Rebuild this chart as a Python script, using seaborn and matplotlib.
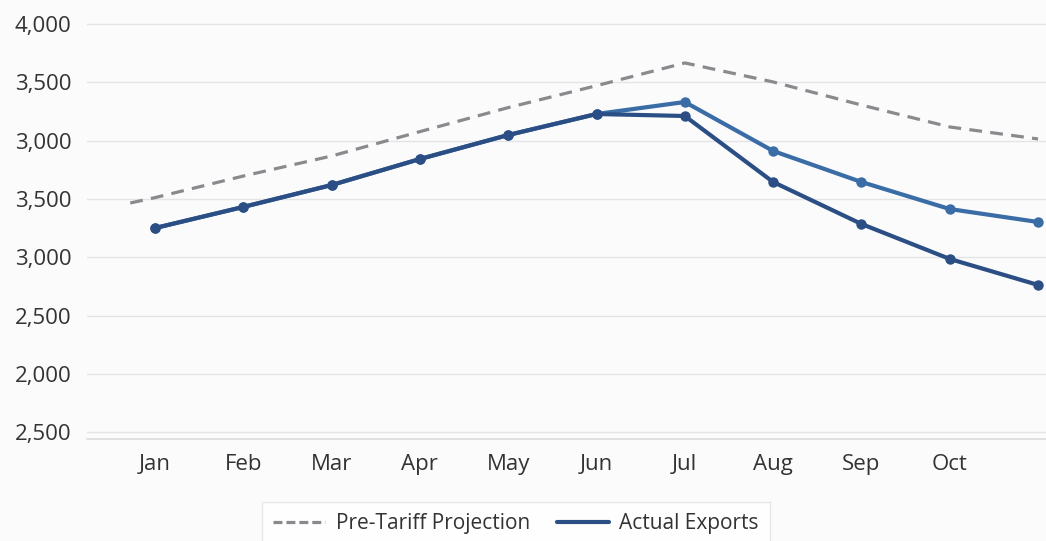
import matplotlib
matplotlib.use("Agg")
import matplotlib.pyplot as plt
import seaborn as sns
import pandas as pd
from matplotlib.lines import Line2D

months = ["Jan", "Feb", "Mar", "Apr", "May", "Jun", "Jul", "Aug", "Sep", "Oct", "Nov"]
month_labels = ["Jan", "Feb", "Mar", "Apr", "May", "Jun", "Jul", "Aug", "Sep", "Oct", ""]

# Pre-tariff projection (starts slightly before Jan)
proj_x = [-0.28, 0, 1, 2, 3, 4, 5, 6, 7, 8, 9, 10]
proj_vals = [2465, 2511, 2696, 2868, 3077, 3283, 3471, 3666, 3503, 3305, 3117, 3014]

# Actual exports (dark) and second scenario (lighter blue)
actual_vals = [2250, 2431, 2619, 2842, 3048, 3228, 3211, 2645, 2285, 1985, 1762]
alt_vals = [2250, 2431, 2619, 2842, 3048, 3228, 3331, 2911, 2645, 2413, 2302]

ytick_vals = [4000, 3500, 3000, 2500, 2000, 1500, 1000, 500]
ytick_labels = ["4,000", "3,500", "3,000", "3,500", "3,000", "2,500", "2,000", "2,500"]

sns.set_theme(style="whitegrid")
plt.rcParams["font.family"] = ["Open Sans", "DejaVu Sans"]

bg = "#fbfbfc"
fig = plt.figure(figsize=(10.46, 5.41), dpi=100, facecolor=bg)
ax = fig.add_axes([87 / 1046, 1 - 439 / 541, 1 - 87 / 1046, (439 - 10) / 541])
ax.set_facecolor(bg)

x = list(range(len(months)))
df_proj = pd.DataFrame({"x": proj_x, "v": proj_vals})
df_alt = pd.DataFrame({"x": x, "v": alt_vals})
df_act = pd.DataFrame({"x": x, "v": actual_vals})

dark = "#2b4f84"
light = "#3a6ca6"
grey = "#8a8a8e"

sns.lineplot(data=df_proj, x="x", y="v", ax=ax, color=grey, linewidth=2.3,
             zorder=2)
ax.lines[-1].set_dashes((4, 2.6))
sns.lineplot(data=df_alt, x="x", y="v", ax=ax, color=light, linewidth=3.0,
             marker="o", markersize=7.5, markeredgewidth=0, zorder=3)
sns.lineplot(data=df_act, x="x", y="v", ax=ax, color=dark, linewidth=3.0,
             marker="o", markersize=7.5, markeredgewidth=0, zorder=4)

ax.set_xlim(-0.77, 10.09)
ax.set_ylim(441, 4120)
ax.set_yticks(ytick_vals)
ax.set_yticklabels(ytick_labels)
ax.set_xticks(x)
ax.set_xticklabels(month_labels)
ax.set_xlabel("")
ax.set_ylabel("")
ax.tick_params(axis="y", labelsize=16, colors="#333333", pad=11, length=0)
ax.tick_params(axis="x", labelsize=16, colors="#333333", pad=11, length=0)
ax.grid(axis="x", visible=False)
ax.grid(axis="y", color="#e4e4e6", linewidth=1.0)
for s in ["top", "right", "left"]:
    ax.spines[s].set_visible(False)
ax.spines["bottom"].set_color("#dcdcde")
ax.spines["bottom"].set_linewidth(1.2)

handles = [
    Line2D([], [], color=grey, linewidth=2.3, dashes=(2.8, 1.25)),
    Line2D([], [], color=dark, linewidth=3.0),
]
leg = fig.legend(handles, ["Pre-Tariff Projection", "Actual Exports"],
                 loc="center", bbox_to_anchor=(516 / 1046, 1 - 524 / 541),
                 ncol=2, frameon=True, fancybox=False, fontsize=15,
                 handlelength=2.5, columnspacing=1.3, borderpad=0.55,
                 handletextpad=0.5, borderaxespad=0)
leg.get_frame().set_edgecolor("#e2e2e4")
leg.get_frame().set_facecolor("#ffffff")
leg.get_frame().set_linewidth(1.0)
for t in leg.get_texts():
    t.set_color("#333333")

fig.savefig("out.png", dpi=100, facecolor=bg)
